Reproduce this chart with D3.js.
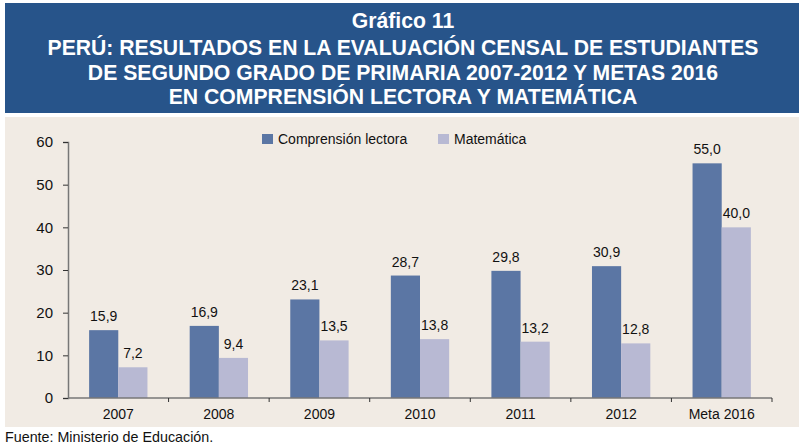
<!DOCTYPE html>
<html>
<head>
<meta charset="utf-8">
<script src="https://cdn.jsdelivr.net/npm/d3@7"></script>
<style>
  body { margin: 0; background: #ffffff; }
  text { font-family: "Liberation Sans", Arial, sans-serif; }
</style>
</head>
<body>
<div id="chart"></div>
<script>
var svgWidth = 799;
var svgHeight = 445;

// data
var categories = ["2007", "2008", "2009", "2010", "2011", "2012", "Meta 2016"];
var lectora = [15.9, 16.9, 23.1, 28.7, 29.8, 30.9, 55.0];
var matematica = [7.2, 9.4, 13.5, 13.8, 13.2, 12.8, 40.0];
var seriesNames = ["Comprensión lectora", "Matemática"];
var yTicks = [0, 10, 20, 30, 40, 50, 60];
var titleLines = [
    "Gráfico 11",
    "PERÚ: RESULTADOS EN LA EVALUACIÓN CENSAL DE ESTUDIANTES",
    "DE SEGUNDO GRADO DE PRIMARIA 2007-2012 Y METAS 2016",
    "EN COMPRENSIÓN LECTORA Y MATEMÁTICA"
];
var source = "Fuente: Ministerio de Educación.";

var colors = ["#5b76a4", "#b8b9d3"];

var svg = d3.select("#chart")
    .append("svg")
    .attr("width", svgWidth)
    .attr("height", svgHeight);

// title band
svg.append("rect")
    .attr("x", 5).attr("y", 3)
    .attr("width", 794).attr("height", 110)
    .attr("fill", "#27548a");

svg.selectAll(".title")
    .data(titleLines)
    .enter()
    .append("text")
    .attr("x", 403)
    .attr("y", (d, i) => i == 0 ? 28 : 55 + (i - 1) * 24.5)
    .attr("text-anchor", "middle")
    .style("font-size", "21.2px")
    .style("font-weight", "bold")
    .style("fill", "white")
    .text(d => d);

// panel
svg.append("rect")
    .attr("x", 5).attr("y", 117)
    .attr("width", 794).attr("height", 310)
    .attr("fill", "#f1ebe4");

var margin = { left: 68, top: 142, right: 27, bottom: 47 };
var width = svgWidth - margin.left - margin.right;   // ~704
var height = svgHeight - margin.top - margin.bottom; // 256

var chartGroup = svg.append("g")
    .attr("transform", `translate(${margin.left}, ${margin.top})`);

var x0 = d3.scaleBand()
    .domain(categories)
    .range([0, width])
    .paddingInner(0.42)
    .paddingOuter(0.21);

var x1 = d3.scaleBand()
    .domain(seriesNames)
    .range([0, x0.bandwidth()]);

var y = d3.scaleLinear()
    .domain([0, 60])
    .range([height, 0]);

// bars
var series = [lectora, matematica];
series.forEach(function(vals, s) {
    chartGroup.selectAll(".bar" + s)
        .data(vals)
        .enter()
        .append("rect")
        .attr("x", (d, i) => x0(categories[i]) + x1(seriesNames[s]))
        .attr("y", d => y(d))
        .attr("width", x1.bandwidth())
        .attr("height", d => height - y(d))
        .attr("fill", colors[s]);

    chartGroup.selectAll(".lab" + s)
        .data(vals)
        .enter()
        .append("text")
        .attr("x", (d, i) => x0(categories[i]) + x1(seriesNames[s]) + x1.bandwidth() / 2)
        .attr("y", d => y(d) - 9)
        .attr("text-anchor", "middle")
        .style("font-size", "14px")
        .style("fill", "#111")
        .text(d => d3.format(".1f")(d).replace(".", ","));
});

// y axis
var leftAxis = d3.axisLeft(y)
    .tickValues(yTicks)
    .tickSize(5)
    .tickPadding(10);
var gy = chartGroup.append("g").call(leftAxis);
gy.select(".domain").attr("stroke", "#777").attr("stroke-width", 1.5);
gy.selectAll(".tick line").attr("stroke", "#333");
gy.selectAll(".tick text")
    .style("font-size", "15px")
    .style("font-family", "Liberation Sans, Arial, sans-serif")
    .attr("fill", "#111");

// x axis: ticks at band boundaries
var xEdge = d3.scaleLinear().domain([0, categories.length]).range([0, width]);
var gx = chartGroup.append("g")
    .attr("transform", `translate(0, ${height})`);
gx.append("line")
    .attr("x1", 0).attr("x2", width)
    .attr("stroke", "#777").attr("stroke-width", 1.5);
gx.selectAll(".xt")
    .data(d3.range(1, categories.length + 1))
    .enter()
    .append("line")
    .attr("x1", d => xEdge(d)).attr("x2", d => xEdge(d))
    .attr("y1", 0).attr("y2", 4)
    .attr("stroke", "#333");
gx.selectAll(".xl")
    .data(categories)
    .enter()
    .append("text")
    .attr("x", d => x0(d) + x0.bandwidth() / 2)
    .attr("y", 21)
    .attr("text-anchor", "middle")
    .style("font-size", "14px")
    .style("fill", "#111")
    .text(d => d);

// legend
var legendX = [262, 438];
var legend = svg.selectAll(".legend")
    .data(seriesNames)
    .enter()
    .append("g")
    .attr("transform", (d, i) => `translate(${legendX[i]}, 134)`);
legend.append("rect")
    .attr("width", 11).attr("height", 10)
    .attr("fill", (d, i) => colors[i]);
legend.append("text")
    .attr("x", 16).attr("y", 10)
    .style("font-size", "14px")
    .style("fill", "#111")
    .text(d => d);

// source
svg.append("text")
    .attr("x", 5).attr("y", 442)
    .style("font-size", "14.3px")
    .style("fill", "#111")
    .text(source);
</script>
</body>
</html>
